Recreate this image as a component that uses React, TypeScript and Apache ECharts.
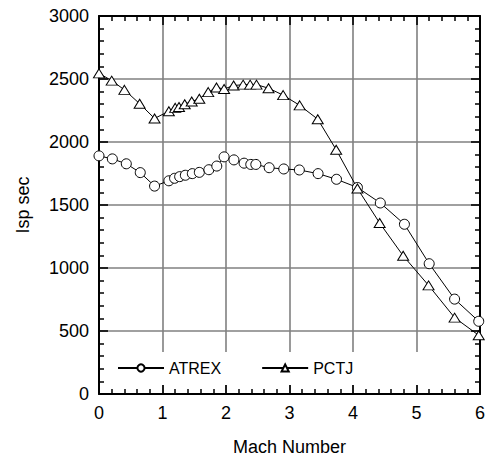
import React, { useEffect, useRef } from "react";
import * as echarts from "echarts";

const atrexMach = [0, 0.21, 0.43, 0.65, 0.875, 1.1, 1.19, 1.27, 1.36, 1.47, 1.58, 1.73, 1.855, 1.97, 2.125, 2.285, 2.39, 2.47, 2.68, 2.91, 3.155, 3.45, 3.74, 4.07, 4.43, 4.81, 5.2, 5.6, 5.98];
const atrexIsp = [1890, 1866, 1827, 1757, 1650, 1692, 1712, 1725, 1736, 1749, 1759, 1780, 1809, 1882, 1858, 1832, 1822, 1822, 1796, 1786, 1778, 1749, 1704, 1639, 1516, 1347, 1034, 753, 577];

const pctjMach = [0, 0.2, 0.4, 0.64, 0.875, 1.1, 1.2, 1.26, 1.35, 1.46, 1.58, 1.72, 1.85, 1.97, 2.12, 2.27, 2.38, 2.48, 2.67, 2.9, 3.16, 3.445, 3.735, 4.07, 4.42, 4.79, 5.19, 5.6, 5.98];
const pctjIsp = [2545, 2487, 2414, 2304, 2187, 2244, 2271, 2278, 2299, 2322, 2343, 2396, 2432, 2421, 2448, 2455, 2455, 2455, 2427, 2372, 2291, 2181, 1939, 1631, 1357, 1097, 862, 606, 466];

const seriesNames = ["ATREX", "PCTJ"];
const xAxisTitle = "Mach Number";
const yAxisTitle = "Isp sec";

const FONT = "'Liberation Sans', Arial, sans-serif";

const mkAxisLine = () => ({ show: true, onZero: false, lineStyle: { color: "#000", width: 2 } });
const mkAxisTick = () => ({ show: true, inside: true, length: 9, lineStyle: { color: "#000", width: 1.6 } });
const mkMinorTick = () => ({ show: true, splitNumber: 5, length: 5, lineStyle: { color: "#000", width: 1.5 } });
const mkSplitLine = () => ({ show: true, lineStyle: { color: "#808080", width: 1.6 } });
const mkLabel = (margin: number) => ({
  show: true,
  color: "#000",
  fontSize: 18,
  fontFamily: FONT,
  margin,
  formatter: (v: number) => String(v),
});

export default function App() {
  const ref = useRef<HTMLDivElement>(null);
  useEffect(() => {
    if (!ref.current) return;
    const chart = echarts.init(ref.current, undefined, { renderer: "svg" });
    chart.setOption({
      animation: false,
      backgroundColor: "#fff",
      textStyle: { fontFamily: FONT, color: "#000" },
      grid: { left: 99, right: 3, top: 16, bottom: 61.5 },
      legend: {
        left: 106,
        top: 352,
        backgroundColor: "#fff",
        padding: [8, 95, 9, 11],
        itemWidth: 46,
        itemHeight: 9,
        itemGap: 40,
        textStyle: { fontSize: 16, color: "#000", fontFamily: FONT },
        data: seriesNames,
      },
      xAxis: [
        {
          type: "value",
          min: 0,
          max: 6,
          interval: 1,
          position: "bottom",
          name: xAxisTitle,
          nameLocation: "middle",
          nameGap: 44,
          nameTextStyle: { fontSize: 18, color: "#000", fontFamily: FONT },
          axisLine: mkAxisLine(),
          axisTick: mkAxisTick(),
          minorTick: mkMinorTick(),
          splitLine: mkSplitLine(),
          axisLabel: mkLabel(10),
        },
        {
          type: "value",
          min: 0,
          max: 6,
          interval: 1,
          position: "top",
          axisLine: mkAxisLine(),
          axisTick: mkAxisTick(),
          minorTick: mkMinorTick(),
          splitLine: { show: false },
          axisLabel: { show: false },
        },
      ],
      yAxis: [
        {
          type: "value",
          min: 0,
          max: 3000,
          interval: 500,
          position: "left",
          name: yAxisTitle,
          nameLocation: "middle",
          nameGap: 67,
          nameRotate: 90,
          nameTextStyle: { fontSize: 18, color: "#000", fontFamily: FONT },
          axisLine: mkAxisLine(),
          axisTick: mkAxisTick(),
          minorTick: mkMinorTick(),
          splitLine: mkSplitLine(),
          axisLabel: mkLabel(10),
        },
        {
          type: "value",
          min: 0,
          max: 3000,
          interval: 500,
          position: "right",
          axisLine: mkAxisLine(),
          axisTick: mkAxisTick(),
          minorTick: mkMinorTick(),
          splitLine: { show: false },
          axisLabel: { show: false },
        },
      ],
      series: [
        {
          name: seriesNames[0],
          type: "line",
          xAxisIndex: 0,
          yAxisIndex: 0,
          data: atrexMach.map((m, i) => [m, atrexIsp[i]]),
          symbol: "circle",
          symbolSize: 10,
          showAllSymbol: true,
          lineStyle: { color: "#000", width: 1 },
          itemStyle: { color: "#fff", borderColor: "#000", borderWidth: 1 },
          z: 3,
        },
        {
          name: seriesNames[1],
          type: "line",
          xAxisIndex: 0,
          yAxisIndex: 0,
          data: pctjMach.map((m, i) => [m, pctjIsp[i]]),
          symbol: "triangle",
          symbolSize: [11, 9],
          showAllSymbol: true,
          lineStyle: { color: "#000", width: 1 },
          itemStyle: { color: "#fff", borderColor: "#000", borderWidth: 1 },
          z: 3,
        },
      ],
    });
    return () => chart.dispose();
  }, []);
  return (
    <div
      ref={ref}
      style={{ position: "fixed", left: 0, top: 0, width: 488, height: 461 }}
    />
  );
}
